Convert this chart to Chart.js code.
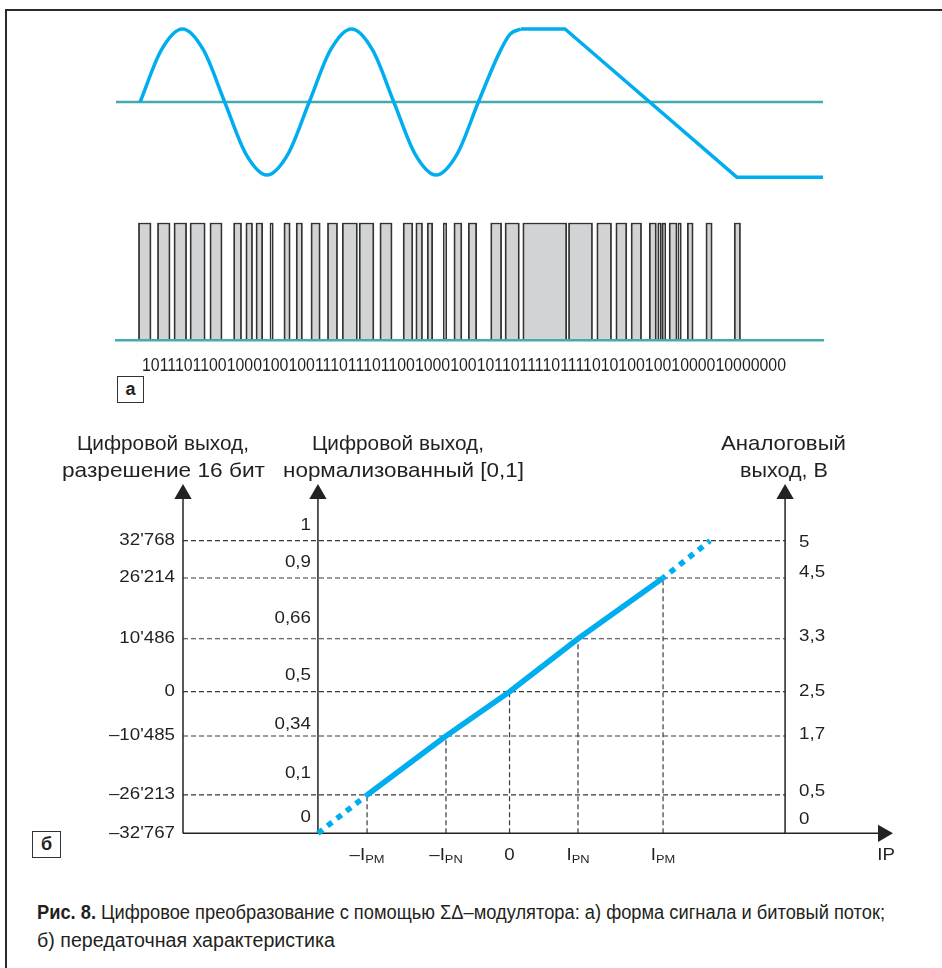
<!DOCTYPE html>
<html>
<head>
<meta charset="utf-8">
<script src="https://cdn.jsdelivr.net/npm/chart.js@4"></script>
<style>
  body { margin: 0; background: #fff; }
  #page { position: relative; width: 942px; height: 968px; overflow: hidden; background: #fff;
          font-family: "Liberation Sans", Arial, sans-serif; color: #231f20; }
  #frame { position: absolute; left: 5px; top: 9px; width: 980px; height: 990px;
           border-top: 2px solid #2a2a2a; border-left: 2px solid #2a2a2a; }
  canvas { position: absolute; left: 0; }
  .t { position: absolute; white-space: nowrap; line-height: 1; }
  .box { position: absolute; border: 1.5px solid #333; box-sizing: border-box; font-weight: bold;
         font-size: 18px; text-align: center; background: #fff; }
</style>
</head>
<body>
<div id="page">
  <div id="frame"></div>
  <canvas id="wave" width="942" height="200" style="top:0"></canvas>
  <canvas id="bits" width="942" height="160" style="top:200px"></canvas>
  <canvas id="transfer" width="942" height="450" style="top:420px"></canvas>
  <div class="box" style="left:117px;top:376px;width:27px;height:27px;line-height:24px">а</div>
  <div class="box" style="left:32px;top:831px;width:29px;height:27px;line-height:24px">б</div>
</div>
<script>
// ---- (а) signal: time in quarter periods, amplitude normalised ----
const waveT = [0, 0.5, 1, 1.5, 2, 2.5, 3, 3.5, 4, 4.5, 5, 5.5, 6, 6.5, 7, 7.5, 8, 8.5, 8.75, 9.0];
const waveV = [0, 0.71, 1, 0.71, 0, -0.71, -1, -0.71, 0, 0.71, 1, 0.71, 0, -0.71, -1, -0.71, 0, 0.68, 0.93, 1];
const rampT = [9.0, 10.05, 14.11, 16.15];
const rampV = [1, 1, -1.03, -1.03];
const timeRange = [-0.57, 16.15];

// bit stream pulses (start / end, same time units)
const pulseStart = [-0.04, 0.41, 0.80, 1.18, 1.65, 2.21, 2.50, 2.74, 3.07, 3.40, 3.69, 4.04, 4.43,
  4.78, 5.18, 5.67, 6.22, 6.52, 6.79, 7.17, 7.42, 7.76, 8.29, 8.63, 9.05, 10.13, 10.80, 11.25,
  11.61, 12.04, 12.24, 12.35, 12.51, 12.72, 12.94, 13.38, 14.05];
const pulseEnd = [0.26, 0.71, 1.10, 1.54, 1.94, 2.40, 2.66, 2.90, 3.15, 3.55, 3.84, 4.26, 4.67,
  5.14, 5.53, 5.96, 6.45, 6.68, 6.92, 7.25, 7.61, 7.96, 8.55, 8.97, 10.09, 10.70, 11.15, 11.51,
  11.86, 12.21, 12.33, 12.43, 12.70, 12.80, 13.08, 13.53, 14.20];
const bitString = "101110110010001001001110111011001000100101101111011110101001001000010000000";

// ---- (б) transfer characteristic ----
const levelPos = [1, 0.8725, 0.665, 0.484, 0.3325, 0.131, 0];
const bitLabels = ["32'768", "26'214", "10'486", "0", "–10'485", "–26'213", "–32'767"];
const normLabels = ["1", "0,9", "0,66", "0,5", "0,34", "0,1", "0"];
const voltLabels = ["5", "4,5", "3,3", "2,5", "1,7", "0,5", "0"];
const currentTicks = [-0.928, -0.414, 0, 0.446, 1];
const currentLabels = [["–I", "PM"], ["–I", "PN"], ["0", ""], ["I", "PN"], ["I", "PM"]];
const outputAtTicks = [0.131, 0.3325, 0.484, 0.665, 0.8725];
const lowExtX = [-1.248, -0.928], lowExtY = [0, 0.131];
const highExtX = [1, 1.306], highExtY = [0.8725, 1];

// axis placement in data units
const leftAxisX = -2.127, midAxisX = -1.248, rightAxisX = 1.795, arrowY = 1.16, arrowX = 2.433;
const xMax = 2.498, yMax = 1.2;

const BLUE = '#00aeef';
const TEAL = '#45a9b0';
const INK = '#231f20';
const SX = 1.17;

Chart.defaults.animation = false;
Chart.defaults.events = [];
Chart.defaults.plugins.legend.display = false;
Chart.defaults.plugins.tooltip.enabled = false;

const pts = (xs, ys) => xs.map((x, i) => ({ x, y: ys[i] }));

// wave
new Chart(document.getElementById('wave'), {
  type: 'scatter',
  data: {
    datasets: [
      { data: pts(waveT, waveV), showLine: true, cubicInterpolationMode: 'monotone',
        borderColor: BLUE, borderWidth: 3.5, pointRadius: 0, clip: false },
      { data: pts(rampT, rampV), showLine: true, borderColor: BLUE, borderWidth: 3.5,
        pointRadius: 0, clip: false, borderJoinStyle: 'round' },
      { data: pts(timeRange, [0, 0]), showLine: true, borderColor: TEAL, borderWidth: 2.5,
        pointRadius: 0, clip: false }
    ]
  },
  options: {
    responsive: false,
    layout: { padding: { left: 116, right: 119, top: 14.4, bottom: 10.4 } },
    scales: {
      x: { type: 'linear', display: false, min: timeRange[0], max: timeRange[1] },
      y: { display: false, min: -1.2, max: 1.2 }
    }
  }
});

// bit stream
new Chart(document.getElementById('bits'), {
  type: 'bar',
  data: {
    labels: ['bits'],
    datasets: [{
      data: pulseStart.map((s, i) => ({ x: [s, pulseEnd[i]], y: 'bits' })),
      backgroundColor: '#d2d3d5', borderColor: '#333', borderWidth: 1.8,
      borderSkipped: false, barPercentage: 1, categoryPercentage: 1
    }]
  },
  options: {
    responsive: false,
    indexAxis: 'y',
    layout: { padding: { left: 116, right: 119, top: 22.7, bottom: 19.3 } },
    scales: {
      x: { type: 'linear', min: timeRange[0], max: timeRange[1], z: 1,
           grid: { display: false, drawTicks: false }, ticks: { display: false },
           border: { display: true, color: TEAL, width: 2.5, z: 1 } },
      y: { type: 'category', display: false, offset: true }
    }
  }
});

// labels for the transfer chart, placed through the chart scales
function drawText(ctx, s, px, py, align, size) {
  ctx.font = size + 'px "Liberation Sans", Arial, sans-serif';
  const w = ctx.measureText(s).width * SX;
  const left = align === 'right' ? px - w : align === 'center' ? px - w / 2 : px;
  ctx.save();
  ctx.translate(left, py);
  ctx.scale(SX, 1);
  ctx.fillText(s, 0, 0);
  ctx.restore();
}

const normLift = [15, 15, 20, 16, 11, 21, 16];
const voltLift = [-2, 5, 2, 0, 1, 3, 14];

const labelPlugin = {
  id: 'axisLabels',
  afterDraw(chart) {
    const { ctx, scales: { x, y } } = chart;
    ctx.save();
    ctx.fillStyle = INK;
    ctx.textBaseline = 'middle';
    ctx.textAlign = 'left';
    levelPos.forEach((v, i) => {
      const py = y.getPixelForValue(v);
      drawText(ctx, bitLabels[i], x.getPixelForValue(leftAxisX) - 8, py, 'right', 16);
      drawText(ctx, normLabels[i], x.getPixelForValue(midAxisX) - 7, py - normLift[i], 'right', 16);
      drawText(ctx, voltLabels[i], x.getPixelForValue(rightAxisX) + 14, py - voltLift[i], 'left', 16);
    });
    const ly = y.getPixelForValue(0) + 22;
    currentTicks.forEach((v, i) => {
      const [main, sub] = currentLabels[i];
      ctx.font = '16px "Liberation Sans", Arial, sans-serif';
      const wm = ctx.measureText(main).width * SX;
      ctx.font = '11px "Liberation Sans", Arial, sans-serif';
      const ws = sub ? ctx.measureText(sub).width * SX : 0;
      const start = x.getPixelForValue(v) - (wm + ws) / 2;
      drawText(ctx, main, start, ly, 'left', 16);
      if (sub) drawText(ctx, sub, start + wm, ly + 5, 'left', 11);
    });
    drawText(ctx, 'IP', x.getPixelForValue(xMax) + 2, ly, 'right', 16);
    ctx.restore();
  }
};

const dashed = { showLine: true, borderColor: '#3a3a3a', borderWidth: 1.2, borderDash: [5, 3],
                 pointRadius: 0, clip: false };
const axisLine = (data, rot) => ({
  data, showLine: true, borderColor: '#222', borderWidth: 1.5, clip: false,
  pointRadius: [0, 10], pointStyle: 'triangle', pointRotation: rot,
  pointBackgroundColor: '#222', pointBorderWidth: 0
});

new Chart(document.getElementById('transfer'), {
  type: 'scatter',
  data: {
    datasets: [
      { data: pts(currentTicks, outputAtTicks), showLine: true, borderColor: BLUE, borderWidth: 5.5,
        borderCapStyle: 'butt', pointRadius: 0, clip: false },
      { data: pts(lowExtX, lowExtY), showLine: true, borderColor: BLUE, borderWidth: 5.5,
        borderDash: [6, 6], pointRadius: 0, clip: false },
      { data: pts(highExtX, highExtY), showLine: true, borderColor: BLUE, borderWidth: 5.5,
        borderDash: [6, 6], borderDashOffset: 3, pointRadius: 0, clip: false },
      axisLine(pts([leftAxisX, leftAxisX], [0, arrowY]), 0),
      axisLine(pts([midAxisX, midAxisX], [0, arrowY]), 0),
      axisLine(pts([rightAxisX, rightAxisX], [0, arrowY]), 0),
      axisLine(pts([leftAxisX, arrowX], [0, 0]), 90),
      ...currentTicks.map((v, i) => Object.assign({ data: pts([v, v], [0, outputAtTicks[i]]) }, dashed)),
      ...levelPos.filter(v => v > 0).map(v => Object.assign({ data: pts([leftAxisX, rightAxisX], [v, v]) }, dashed))
    ]
  },
  options: {
    responsive: false,
    layout: { padding: { left: 183, right: 49, top: 62.2, bottom: 36.7 } },
    scales: {
      x: { type: 'linear', display: false, min: leftAxisX, max: xMax },
      y: { type: 'linear', display: false, min: 0, max: yMax }
    }
  },
  plugins: [labelPlugin]
});

// HTML text, stretched to the widths seen in the figure
const page = document.getElementById('page');
function placeText(html, x, baseline, align, width, size, weight) {
  const el = document.createElement('div');
  el.className = 't';
  el.innerHTML = html;
  el.style.fontSize = size + 'px';
  if (weight) el.style.fontWeight = weight;
  page.appendChild(el);
  const w0 = el.getBoundingClientRect().width;
  const left = align === 'center' ? x - width / 2 : align === 'right' ? x - width : x;
  el.style.left = left + 'px';
  el.style.top = (baseline - 0.846 * size) + 'px';
  el.style.transformOrigin = '0 0';
  el.style.transform = 'scaleX(' + (width / w0) + ')';
}

placeText('Цифровой выход,', 163, 450, 'center', 172, 21);
placeText('разрешение 16 бит', 163.5, 477, 'center', 203, 21);
placeText('Цифровой выход,', 398, 450, 'center', 172, 21);
placeText('нормализованный [0,1]', 403, 477, 'center', 241, 21);
placeText('Аналоговый', 783.5, 450, 'center', 125, 21);
placeText('выход, В', 784, 477, 'center', 88, 21);
placeText(bitString, 141.7, 371, 'left', 644, 19);
placeText('<b>Рис. 8.</b> Цифровое преобразование с помощью ΣΔ–модулятора: а) форма сигнала и битовый поток;',
  37, 919, 'left', 848, 20);
placeText('б) передаточная характеристика', 37, 947, 'left', 298, 20);
</script>
</body>
</html>
